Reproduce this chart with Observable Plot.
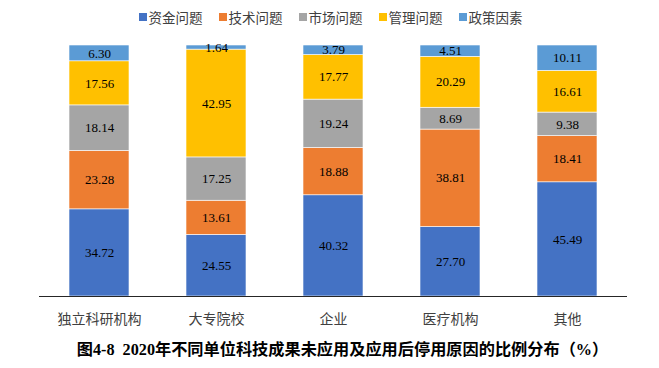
<!DOCTYPE html>
<html><head><meta charset="utf-8">
<script src="https://cdn.jsdelivr.net/npm/d3@7"></script>
<script src="https://cdn.jsdelivr.net/npm/@observablehq/plot@0.6"></script>
<style>
body{margin:0;background:#fff;width:659px;height:368px;overflow:hidden;}
#legend{height:34px;display:flex;justify-content:center;align-items:center;font-family:"Noto Sans CJK SC",sans-serif;font-size:13.5px;color:#404040;padding-left:2px;box-sizing:border-box;}
#legend span.item{display:inline-flex;align-items:center;margin:0 8px;}
#legend span.sw{width:8px;height:8px;display:inline-block;margin-right:2px;}
#caption{text-align:center;font-family:"Liberation Serif","Noto Sans CJK SC",serif;font-weight:bold;font-size:16.2px;color:#000;margin-top:2px;padding-left:26px;}
</style></head>
<body>
<div id="legend"></div>
<div id="chart"></div>
<div id="caption">图4-8&nbsp;&nbsp;2020年不同单位科技成果未应用及应用后停用原因的比例分布（%）</div>
<script>
const categories = ["独立科研机构","大专院校","企业","医疗机构","其他"];
const seriesNames = ["资金问题","技术问题","市场问题","管理问题","政策因素"];
const colors = ["#4472C4","#ED7D31","#A5A5A5","#FFC000","#5B9BD5"];
const funding    = [34.72, 24.55, 40.32, 27.70, 45.49];
const technology = [23.28, 13.61, 18.88, 38.81, 18.41];
const market     = [18.14, 17.25, 19.24, 8.69, 9.38];
const management = [17.56, 42.95, 17.77, 20.29, 16.61];
const policy     = [6.30, 1.64, 3.79, 4.51, 10.11];

const seriesValues = [funding, technology, market, management, policy];
const data = [];
seriesNames.forEach((s, si) => categories.forEach((c, ci) => data.push({cat: c, series: s, value: seriesValues[si][ci]})));

const legend = document.getElementById("legend");
seriesNames.forEach((s, i) => {
  const it = document.createElement("span"); it.className = "item";
  it.innerHTML = `<span class="sw" style="background:${colors[i]}"></span>${s}`;
  legend.appendChild(it);
});

const chart = Plot.plot({
  width: 659, height: 300,
  marginTop: 11, marginBottom: 38, marginLeft: 39, marginRight: 32,
  x: {domain: categories, paddingInner: 0.49, paddingOuter: 0.24, label: null, tickSize: 0, tickPadding: 18},
  y: {domain: [0, 100], axis: null},
  color: {domain: seriesNames, range: colors},
  style: {fontFamily: "'Liberation Serif','Noto Sans CJK SC',serif", fontSize: "14px", color: "#404040"},
  marks: [
    Plot.barY(data, {x: "cat", y: "value", fill: "series", order: seriesNames, stroke: "#fff", strokeWidth: 0.6}),
    Plot.text(data, Plot.stackY({x: "cat", y: "value", z: "series", order: seriesNames, text: d => d.value.toFixed(2), fill: "#000", fontSize: 13})),
    Plot.ruleY([0], {stroke: "#262626", strokeWidth: 1.2})
  ]
});
document.getElementById("chart").appendChild(chart);
</script>
</body></html>
